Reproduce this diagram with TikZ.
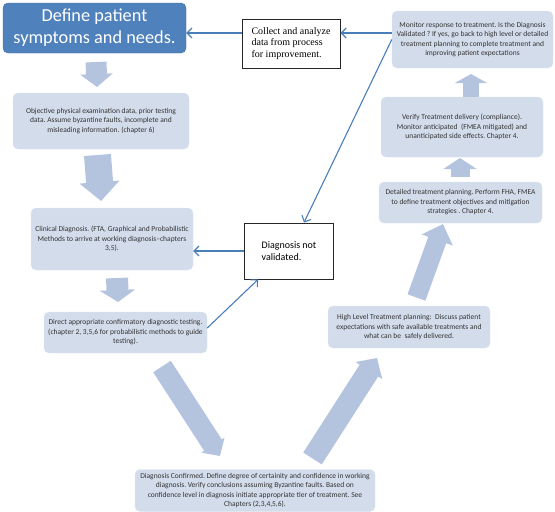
\documentclass[tikz,border=0pt]{standalone}
\usepackage{fontspec}
\setmainfont{Carlito}
\newfontfamily\notefont{Liberation Serif}
\usepackage{tikz}
\usetikzlibrary{arrows.meta, positioning, calc}
\frenchspacing
\definecolor{dgTitle}{HTML}{4F81BD}
\definecolor{dgTitleEdge}{HTML}{41719C}
\definecolor{dgBox}{HTML}{D3DCEB}
\definecolor{dgBoxEdge}{HTML}{DDE4F0}
\definecolor{dgArrow}{HTML}{B4C4DF}
\definecolor{dgLink}{HTML}{4A7EBB}
\definecolor{dgText}{HTML}{333333}
\tikzset{
  dgnode/.style={rounded corners=5pt, align=center, inner sep=2pt},
  titlebox/.style={dgnode, fill=dgTitle, draw=dgTitleEdge, text=white,
    font=\fontsize{18.3}{22}\selectfont},
  stepbox/.style={dgnode, fill=dgBox, draw=dgBoxEdge, text=dgText,
    font=\fontsize{7.5}{9.5}\selectfont},
  notebox/.style={draw=black!85, line width=0.9pt, fill=white, align=left, inner sep=2pt},
  bigarrow/.style n args={3}{draw=dgArrow, line width=#1,
    -{Triangle[width=#2, length=#3]}},
  link/.style={-{Straight Barb[length=5pt, width=10pt]}, dgLink, line width=1.1pt}
}

\begin{document}
\begin{tikzpicture}[x=1pt, y=-1pt]
  \useasboundingbox (0,0) rectangle (555,512);
  % boxes
  \node[titlebox, minimum width=183pt, minimum height=50pt] (title) at (94.5,28)
    {Define patient\\symptoms and needs.};
  \node[notebox, minimum width=98pt, minimum height=49pt,
    font=\notefont\fontsize{10}{11.5}\selectfont] (collect) at (291,43.5)
    {Collect and analyze\\data from process\\for improvement.};
  \node[stepbox, minimum width=161pt, minimum height=57pt] (monitor) at (472.5,39.5)
    {Monitor response to treatment. Is the Diagnosis\\Validated ? If yes, go back to high level or detailed\\treatment planning to complete treatment and\\improving patient expectations};
  \node[stepbox, minimum width=162pt, minimum height=60pt] (verify) at (462,127)
    {Verify Treatment delivery (compliance).\\Monitor anticipated \ (FMEA mitigated) and\\unanticipated side effects. Chapter 4.};
  \node[stepbox, minimum width=163pt, minimum height=41pt] (detailed) at (460.5,202.5)
    {Detailed treatment planning. Perform FHA, FMEA\\to define treatment objectives and mitigation\\strategies . Chapter 4.};
  \node[stepbox, minimum width=162pt, minimum height=42pt] (high) at (409,327)
    {High Level Treatment planning: \ Discuss patient\\expectations with safe available treatments and\\what can be \ safely delivered.};
  \node[stepbox, minimum width=240pt, minimum height=42pt] (confirmed) at (255,490.5)
    {Diagnosis Confirmed. Define degree of certainity and confidence in working\\diagnosis. Verify conclusions assuming Byzantine faults. Based on\\confidence level in diagnosis initiate appropriate tier of treatment. See\\Chapters (2,3,4,5,6).};
  \node[stepbox, minimum width=163pt, minimum height=41pt] (direct) at (125.5,332.5)
    {Direct appropriate confirmatory diagnostic testing.\\(chapter 2, 3,5,6 for probabilistic methods to guide\\testing).};
  \node[stepbox, minimum width=162pt, minimum height=62pt] (clinical) at (112,239)
    {Clinical Diagnosis. (FTA, Graphical and Probabilistic\\Methods to arrive at working diagnosis--chapters\\3,5).};
  \node[stepbox, minimum width=176pt, minimum height=56pt] (objective) at (101,121)
    {Objective physical examination data, prior testing\\data. Assume byzantine faults, incomplete and\\misleading information. (chapter 6)};
  \node[notebox, minimum width=89pt, minimum height=56pt,
    font=\fontsize{10}{12}\selectfont] (notval) at (289,251)
    {Diagnosis not\\validated.};
  % block arrows
  \coordinate (arr1s) at (96,62);      \coordinate (arr1e) at (97,87);
  \coordinate (arr2s) at (97.5,155);   \coordinate (arr2e) at (101,201);
  \coordinate (arr3s) at (117,278);    \coordinate (arr3e) at (118,302);
  \coordinate (arr4s) at (162,366.5);  \coordinate (arr4e) at (220,456);
  \coordinate (arr5s) at (312.5,458.5);\coordinate (arr5e) at (377,358);
  \coordinate (arr6s) at (416.5,297.5);\coordinate (arr6e) at (443,224);
  \coordinate (arr7s) at (460,177);    \coordinate (arr7e) at (460,158);
  \coordinate (arr8s) at (471,97);     \coordinate (arr8e) at (471,74);
  \draw[bigarrow={21pt}{32pt}{13pt}] (arr1s) -- (arr1e);
  \draw[bigarrow={27pt}{39pt}{19pt}] (arr2s) -- (arr2e);
  \draw[bigarrow={22pt}{35pt}{12pt}] (arr3s) -- (arr3e);
  \draw[bigarrow={21pt}{27pt}{13pt}] (arr4s) -- (arr4e);
  \draw[bigarrow={22pt}{31pt}{15pt}] (arr5s) -- (arr5e);
  \draw[bigarrow={19pt}{32pt}{17pt}] (arr6s) -- (arr6e);
  \draw[bigarrow={19pt}{33pt}{11pt}] (arr7s) -- (arr7e);
  \draw[bigarrow={16pt}{32pt}{9pt}] (arr8s) -- (arr8e);
  % feedback links
  \draw[link] ([yshift=10.5pt]collect.west) -- ([yshift=-5pt]title.east);
  \draw[link] ([yshift=6.5pt]monitor.west) -- ([yshift=10.5pt]collect.east);
  \draw[link] (monitor.west) -- ([xshift=15pt]notval.north);
  \draw[link] (notval.west) -- (notval.west -| clinical.east);
  \draw[link] ([yshift=4.5pt]direct.east) -- ([xshift=14pt]notval.south west);
\end{tikzpicture}
\end{document}
